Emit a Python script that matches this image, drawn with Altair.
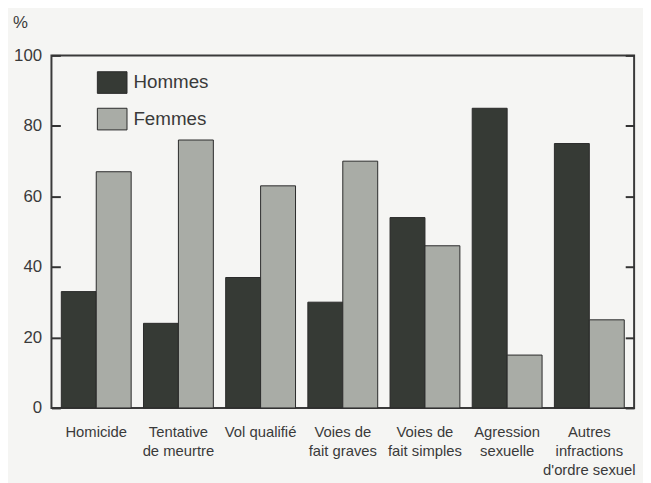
import altair as alt
import pandas as pd

categories = ["Homicide", "Tentative|de meurtre", "Vol qualifié", "Voies de|fait graves",
              "Voies de|fait simples", "Agression|sexuelle", "Autres|infractions|d'ordre sexuel"]
hommes = [33, 24, 37, 30, 54, 85, 75]
femmes = [67, 76, 63, 70, 46, 15, 25]
series = ["Hommes", "Femmes"]
colors = ["#363a35", "#a9aca6"]
y_ticks = [0, 20, 40, 60, 80, 100]

rows = []
for c, h, f in zip(categories, hommes, femmes):
    rows.append({"cat": c, "sexe": "Hommes", "val": h})
    rows.append({"cat": c, "sexe": "Femmes", "val": f})
df = pd.DataFrame(rows)

FONT = "Liberation Sans"

x_enc = alt.X("cat:N", sort=categories,
              scale=alt.Scale(paddingInner=0.15, paddingOuter=0.12),
              axis=alt.Axis(title=None, labelAngle=0, ticks=False, domain=False,
                            labelExpr="split(datum.label, '|')", labelFontSize=15,
                            labelFont=FONT, labelColor="#3a3a3a", labelPadding=17,
                            labelBaseline="top", labelLineHeight=19, labelLimit=200))
xo_enc = alt.XOffset("sexe:N", sort=series, scale=alt.Scale(paddingInner=0))
color_enc = alt.Color("sexe:N", sort=series,
                      scale=alt.Scale(domain=series, range=colors),
                      legend=alt.Legend(title=None, orient="none", legendX=46, legendY=12,
                                        symbolType="M-1,-0.73H1V0.73H-1Z", symbolSize=900,
                                        symbolStrokeColor="#2a2a2a", symbolStrokeWidth=1,
                                        labelFontSize=19, labelFont=FONT, labelColor="#3a3a3a",
                                        labelOffset=6, rowPadding=8))

left = alt.Chart(df).mark_bar(stroke="#2a2a2a", strokeWidth=1).encode(
    x=x_enc, xOffset=xo_enc, color=color_enc,
    y=alt.Y("val:Q", scale=alt.Scale(domain=[0, 100]),
            axis=alt.Axis(values=y_ticks, orient="left", offset=-9, tickSize=9, domain=False,
                          grid=False, tickColor="#333", tickWidth=2, labelPadding=10,
                          labelFontSize=17, labelFont=FONT, labelColor="#3a3a3a",
                          title="%", titleAngle=0, titleX=-41, titleY=-33,
                          titleAlign="center", titleBaseline="middle", titleFontSize=17,
                          titleFont=FONT, titleFontWeight="normal", titleColor="#3a3a3a")),
)

right = alt.Chart(df).mark_bar(opacity=0).encode(
    x=x_enc, xOffset=xo_enc,
    y=alt.Y("val:Q", scale=alt.Scale(domain=[0, 100]),
            axis=alt.Axis(values=y_ticks, orient="right", offset=-9, tickSize=9, domain=False,
                          grid=False, tickColor="#333", tickWidth=2, labels=False, title=None)),
)

chart = alt.layer(left, right).resolve_scale(y="shared").resolve_axis(y="independent").properties(
    width=590, height=357,
    autosize=alt.AutoSizeParams(type="none"),
    padding={"left": 44, "top": 45, "right": 9, "bottom": 73},
    background="#f5f5f3",
).configure_view(stroke="#3a3a3a", strokeWidth=2)

chart.save("out.html", embed_options={"renderer": "svg", "actions": False})
